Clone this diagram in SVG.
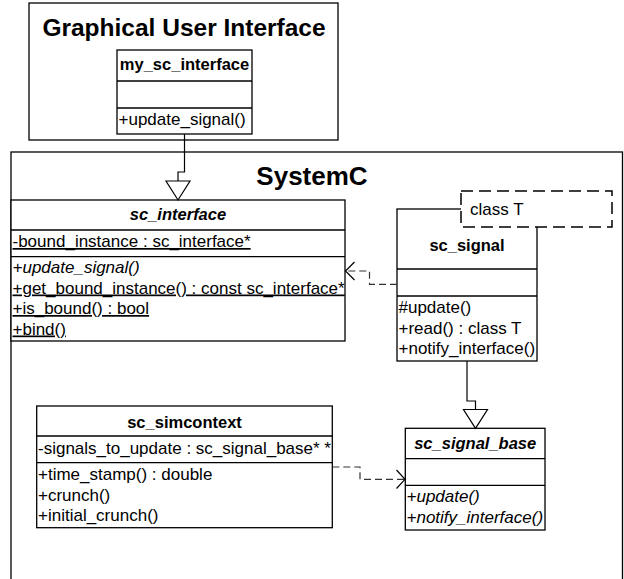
<svg xmlns="http://www.w3.org/2000/svg" width="624" height="579" viewBox="0 0 624 579">
<style>
.box{fill:#fff;stroke:#000;stroke-width:1.3}
.sep{stroke:#000;stroke-width:1.3}
.t{font-family:"Liberation Sans",Arial,sans-serif;font-size:17px;fill:#000}
.b{font-weight:bold;font-size:16.5px}
.i{font-style:italic}
.u{text-decoration:underline}
.pk{font-family:"Liberation Sans",Arial,sans-serif;font-weight:bold;fill:#000}
.ln{fill:none;stroke:#000;stroke-width:1.2}
.dash{fill:none;stroke:#333;stroke-width:1.2;stroke-dasharray:7 4}
.tri{fill:#fff;stroke:#000;stroke-width:1.2}
</style>
<g id="pkg-gui">
<rect class="box" x="29" y="3" width="309" height="137"/>
<text class="pk" x="184" y="36" font-size="24.5" text-anchor="middle">Graphical User Interface</text>
</g>
<g id="pkg-systemc">
<rect class="box" x="11" y="152" width="611.5" height="440"/>
<text class="pk" x="312" y="185" font-size="26" text-anchor="middle">SystemC</text>
</g>
<g id="my_sc_interface">
<rect class="box" x="117" y="50" width="135" height="84"/>
<line class="sep" x1="117" y1="81" x2="252" y2="81"/>
<line class="sep" x1="117" y1="108" x2="252" y2="108"/>
<text class="t b" x="184.5" y="70" text-anchor="middle">my_sc_interface</text>
<text class="t" x="118.5" y="125">+update_signal()</text>
</g>
<g id="sc_interface">
<rect class="box" x="11" y="200" width="334" height="141"/>
<line class="sep" x1="11" y1="230" x2="345" y2="230"/>
<line class="sep" x1="11" y1="256.7" x2="345" y2="256.7"/>
<text class="t b i" x="178" y="220" text-anchor="middle">sc_interface</text>
<text class="t u" x="12.5" y="247">-bound_instance : sc_interface*</text>
<text class="t i" x="12.5" y="273">+update_signal()</text>
<text class="t u" x="12.5" y="293.5">+get_bound_instance() : const sc_interface*</text>
<text class="t u" x="12.5" y="314">+is_bound() : bool</text>
<text class="t u" x="12.5" y="334.5">+bind()</text>
</g>
<g id="sc_signal">
<rect class="box" x="397" y="209" width="140" height="152"/>
<line class="sep" x1="397" y1="269" x2="537" y2="269"/>
<line class="sep" x1="397" y1="296" x2="537" y2="296"/>
<text class="t b" x="467" y="251" text-anchor="middle">sc_signal</text>
<text class="t" x="398.5" y="313">#update()</text>
<text class="t" x="398.5" y="333.5">+read() : class T</text>
<text class="t" x="398.5" y="354">+notify_interface()</text>
<rect x="461" y="191" width="151" height="36" fill="#fff" stroke="#000" stroke-width="1.5" stroke-dasharray="12 6"/>
<text class="t" x="470" y="215">class T</text>
</g>
<g id="sc_simcontext">
<rect class="box" x="36.7" y="406" width="295.6" height="121.7"/>
<line class="sep" x1="36.7" y1="436" x2="332.3" y2="436"/>
<line class="sep" x1="36.7" y1="462.7" x2="332.3" y2="462.7"/>
<text class="t b" x="184.5" y="428" text-anchor="middle">sc_simcontext</text>
<text class="t" x="38" y="454">-signals_to_update : sc_signal_base* *</text>
<text class="t" x="38" y="480">+time_stamp() : double</text>
<text class="t" x="38" y="500.5">+crunch()</text>
<text class="t" x="38" y="521">+initial_crunch()</text>
</g>
<g id="sc_signal_base">
<rect class="box" x="405.3" y="428.3" width="139.7" height="101.7"/>
<line class="sep" x1="405.3" y1="458.7" x2="545" y2="458.7"/>
<line class="sep" x1="405.3" y1="485.3" x2="545" y2="485.3"/>
<text class="t b i" x="475.2" y="449" text-anchor="middle">sc_signal_base</text>
<text class="t i" x="406.5" y="502">+update()</text>
<text class="t i" x="406.5" y="522.5">+notify_interface()</text>
</g>
<g id="connectors">
<polyline class="ln" points="184.5,134 184.5,172 178,172 178,181"/>
<polygon class="tri" points="166,181 190,181 178,200"/>
<polyline class="ln" points="467,361 467,401 475.5,401 475.5,409.5"/>
<polygon class="tri" points="463.5,409.5 487.5,409.5 475.5,428.3"/>
<polyline class="dash" points="397,284.3 369.5,284.3 369.5,271 346,271"/>
<polyline class="ln" points="354.5,262 345.5,271 354.5,280"/>
<polyline class="dash" points="332.3,467 360,467 360,479.3 404.5,479.3"/>
<polyline class="ln" points="396.5,470 405,479.3 396.5,488.5"/>
</g>
</svg>
